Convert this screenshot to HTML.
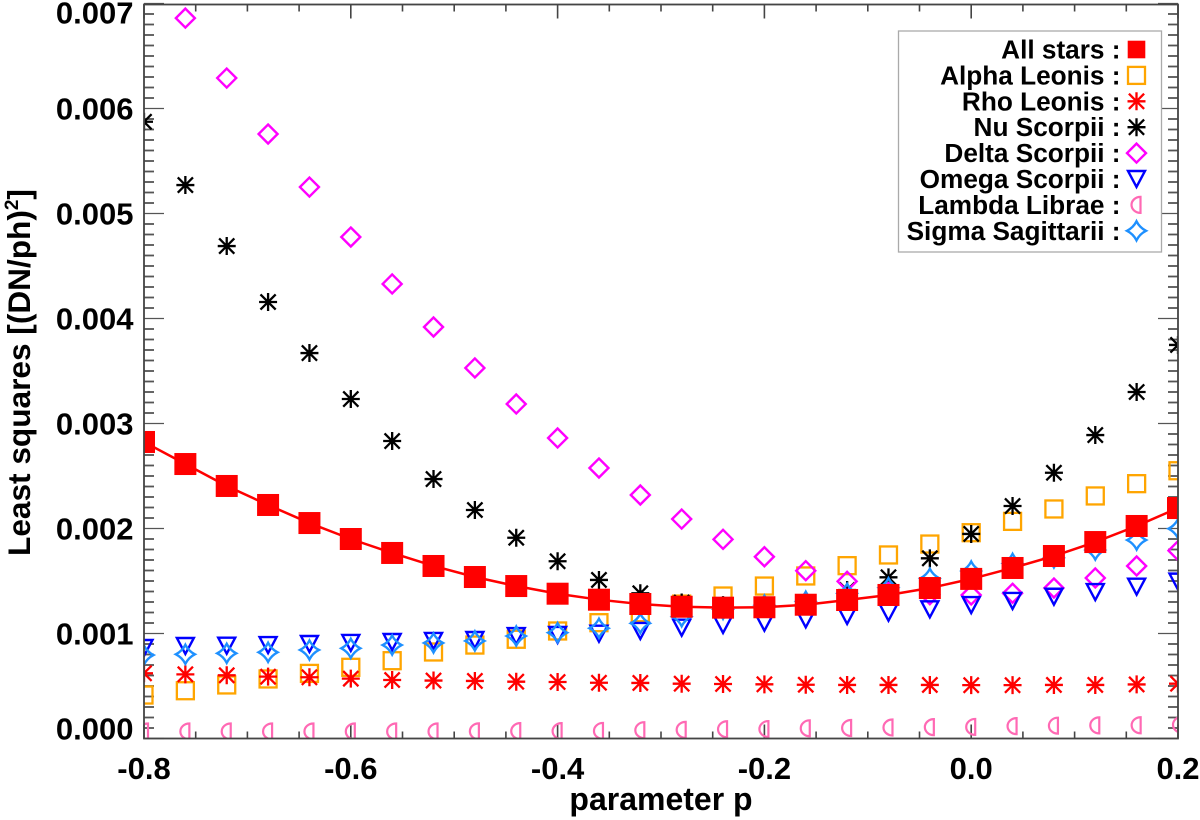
<!DOCTYPE html>
<html>
<head>
<meta charset="utf-8">
<title>Least squares vs parameter p</title>
<style>
html,body{margin:0;padding:0;background:#fff;width:1200px;height:820px;overflow:hidden}
svg{display:block;filter:blur(0.35px)}
text{font-family:"Liberation Sans",Arial,sans-serif;font-weight:bold;fill:#000}
</style>
</head>
<body>
<svg id="chart" width="1200" height="820" viewBox="0 0 1200 820" xmlns="http://www.w3.org/2000/svg">
  <defs><clipPath id="plot-clip"><rect x="144" y="4.5" width="1034" height="734.5"/></clipPath></defs>
  <rect x="0" y="0" width="1200" height="820" fill="#fff"/>
  <g id="ticks"></g>
  <g id="marks" clip-path="url(#plot-clip)"></g>
  <rect x="144" y="4.5" width="1034" height="734" fill="none" stroke="#444" stroke-width="1.8"/>
  <g id="tick-labels"></g>
  <text x="661" y="810" font-size="32" text-anchor="middle">parameter p</text>
  <text transform="translate(30,372.5) rotate(-90)" font-size="31.6" text-anchor="middle">Least squares [(DN/ph)<tspan font-size="19" dy="-12">2</tspan><tspan dy="12">]</tspan></text>
  <rect x="898.5" y="31" width="263" height="221" fill="#fff" stroke="#aaa" stroke-width="1.3"/>
  <g id="legend"></g>
</svg>
<script>
const NS = 'http://www.w3.org/2000/svg';

// Sampled values of parameter p
const pValues = [-0.80,-0.76,-0.72,-0.68,-0.64,-0.60,-0.56,-0.52,-0.48,-0.44,-0.40,-0.36,-0.32,-0.28,-0.24,-0.20,-0.16,-0.12,-0.08,-0.04,0.00,0.04,0.08,0.12,0.16,0.20];

// Least-squares values, in units of 1e-3 (DN/ph)^2
const allStars = [2.824,2.614,2.405,2.224,2.052,1.900,1.767,1.643,1.538,1.452,1.379,1.322,1.281,1.255,1.246,1.250,1.274,1.319,1.367,1.433,1.520,1.624,1.738,1.871,2.024,2.195];
const alphaLeonis = [0.414,0.455,0.510,0.567,0.620,0.678,0.741,0.824,0.890,0.945,1.024,1.103,1.198,1.280,1.357,1.452,1.548,1.646,1.748,1.852,1.960,2.068,2.186,2.310,2.427,2.550];
const rhoLeonis = [0.621,0.611,0.602,0.589,0.583,0.570,0.557,0.552,0.548,0.541,0.538,0.531,0.529,0.522,0.519,0.516,0.512,0.510,0.510,0.510,0.508,0.508,0.510,0.510,0.515,0.522];
const nuScorpii = [5.874,5.271,4.690,4.157,3.671,3.233,2.833,2.471,2.176,1.912,1.688,1.510,1.383,1.295,1.270,1.270,1.295,1.414,1.535,1.716,1.948,2.214,2.531,2.890,3.300,3.748];
const deltaScorpii = [7.500,6.861,6.290,5.757,5.252,4.776,4.329,3.919,3.529,3.186,2.862,2.576,2.319,2.090,1.897,1.731,1.598,1.497,1.390,1.370,1.367,1.383,1.433,1.529,1.643,1.789];
const omegaScorpii = [0.862,0.881,0.884,0.890,0.900,0.910,0.919,0.929,0.938,0.976,0.986,0.998,1.024,1.055,1.081,1.103,1.135,1.167,1.198,1.230,1.271,1.310,1.350,1.395,1.446,1.494];
const lambdaLibrae = [0.067,0.067,0.067,0.067,0.067,0.067,0.067,0.067,0.068,0.070,0.070,0.072,0.079,0.082,0.088,0.090,0.097,0.100,0.105,0.108,0.110,0.118,0.122,0.125,0.126,0.131];
const sigmaSagittarii = [0.795,0.802,0.811,0.821,0.843,0.859,0.890,0.910,0.929,0.976,1.008,1.050,1.097,1.160,1.230,1.270,1.307,1.383,1.436,1.526,1.595,1.668,1.720,1.795,1.890,1.998];

// Axis tick labels
const xTickLabels = ['-0.8','-0.6','-0.4','-0.2','0.0','0.2'];
const yTickLabels = ['0.000','0.001','0.002','0.003','0.004','0.005','0.006','0.007'];

// Legend labels
const legendLabels = ['All stars :','Alpha Leonis :','Rho Leonis :','Nu Scorpii :','Delta Scorpii :','Omega Scorpii :','Lambda Librae :','Sigma Sagittarii :'];

function xScale(p){ return 144 + (p + 0.8) * 1034; }
function yScale(v){ return 738.5 - v * 105; }

function shape(tag, attrs, parent){
  const el = document.createElementNS(NS, tag);
  for (const k in attrs) el.setAttribute(k, attrs[k]);
  parent.appendChild(el);
  return el;
}

function drawFilledSquare(x,y,parent){ return shape('rect',{x:x-11,y:y-11,width:22,height:22,fill:'#ff0000'},parent); }
function drawOpenSquare(x,y,parent){ return shape('rect',{x:x-8.5,y:y-8.5,width:17,height:17,fill:'none',stroke:'#ffa500','stroke-width':2.3},parent); }
function starPath(x,y){
  const r=9, d=7.6;
  return `M${x-r} ${y}H${x+r}M${x} ${y-r}V${y+r}M${x-d} ${y-d}L${x+d} ${y+d}M${x-d} ${y+d}L${x+d} ${y-d}`;
}
function drawRedStar(x,y,parent){ return shape('path',{d:starPath(x,y),fill:'none',stroke:'#ff0000','stroke-width':2.3},parent); }
function drawBlackStar(x,y,parent){ return shape('path',{d:starPath(x,y),fill:'none',stroke:'#000','stroke-width':2.3},parent); }
function drawDiamond(x,y,parent){ return shape('path',{d:`M${x} ${y-9.5}L${x+9.5} ${y}L${x} ${y+9.5}L${x-9.5} ${y}Z`,fill:'none',stroke:'#ff00ff','stroke-width':2.4},parent); }
function drawTriangle(x,y,parent){ return shape('path',{d:`M${x-8.5} ${y-8}H${x+8.5}L${x} ${y+8}Z`,fill:'none',stroke:'#0000ff','stroke-width':2.4},parent); }
function drawHalfMoon(x,y,parent){ return shape('path',{d:`M${x+4} ${y-8}V${y+8}A9 8 0 0 1 ${x+4} ${y-8}Z`,fill:'none',stroke:'#ff69b4','stroke-width':2.2},parent); }
function drawSigmaStar(x,y,parent){
  const r=9.5, c=3.2;
  return shape('path',{d:`M${x} ${y-r}Q${x+c} ${y-c} ${x+r} ${y}Q${x+c} ${y+c} ${x} ${y+r}Q${x-c} ${y+c} ${x-r} ${y}Q${x-c} ${y-c} ${x} ${y-r}Z`,fill:'none',stroke:'#1e90ff','stroke-width':2.4},parent);
}

const ticksG = document.getElementById('ticks');
const labelsG = document.getElementById('tick-labels');
const marksG = document.getElementById('marks');
const legendG = document.getElementById('legend');

// X ticks, bottom and top: minor every 0.05, major every 0.2
for (let i = 0; i <= 20; i++) {
  const x = xScale(-0.8 + i * 0.05);
  const len = i % 4 === 0 ? 14 : 7;
  const bottomTick = shape('line',{x1:x,x2:x,y1:738.5,y2:738.5-len,stroke:'#444','stroke-width':1.6},ticksG);
  
  
  const topTick = shape('line',{x1:x,x2:x,y1:4.5,y2:4.5+len,stroke:'#444','stroke-width':1.6},ticksG);
  
  
}
// Y ticks, left and right: minor every 0.1, major every 1 (units of 1e-3)
for (let i = 0; i <= 70; i++) {
  const y = yScale(i * 0.1);
  const len = i % 10 === 0 ? 20 : 10;
  const leftTick = shape('line',{x1:144,x2:144+len,y1:y,y2:y,stroke:'#555','stroke-width':i % 10 === 0 ? 1.2 : 1.8},ticksG);
  
  
  const rightTick = shape('line',{x1:1178,x2:1178-len,y1:y,y2:y,stroke:'#555','stroke-width':i % 10 === 0 ? 1.2 : 1.8},ticksG);
  
  
}

// Tick labels
xTickLabels.forEach(function(label){
  const t = shape('text',{x:xScale(parseFloat(label)),y:779,'font-size':31,'text-anchor':'middle'},labelsG);
  t.textContent = label;
  
  
});
yTickLabels.forEach(function(label){
  const v = parseFloat(label) * 1000;
  let base = yScale(v) + 11;
  if (v === 0) base -= 10;
  if (v === 7) base += 9;
  const t = shape('text',{x:133.5,y:base,'font-size':31,'text-anchor':'end'},labelsG);
  t.textContent = label;
  
  
});

// Series, in draw order (later ones sit on top)
function drawSeries(values, drawer, groupName){
  const g = shape('g',{},marksG);
  
  
  values.forEach(function(v,i){
    const m = drawer(xScale(pValues[i]), yScale(v), g);
    
    
  });
}
drawSeries(alphaLeonis, drawOpenSquare, 'series-alpha-leonis');
drawSeries(rhoLeonis, drawRedStar, 'series-rho-leonis');
drawSeries(nuScorpii, drawBlackStar, 'series-nu-scorpii');
drawSeries(deltaScorpii, drawDiamond, 'series-delta-scorpii');
drawSeries(omegaScorpii, drawTriangle, 'series-omega-scorpii');
drawSeries(lambdaLibrae, drawHalfMoon, 'series-lambda-librae');
drawSeries(sigmaSagittarii, drawSigmaStar, 'series-sigma-sagittarii');

const allLine = shape('polyline',{points:allStars.map(function(v,i){return xScale(pValues[i])+','+yScale(v);}).join(' '),fill:'none',stroke:'#ff0000','stroke-width':2.5},marksG);


drawSeries(allStars, drawFilledSquare, 'series-all-stars');

// Legend
const legendDrawers = [drawFilledSquare,drawOpenSquare,drawRedStar,drawBlackStar,drawDiamond,drawTriangle,drawHalfMoon,drawSigmaStar];
legendLabels.forEach(function(label,i){
  const cy = 49.5 + i * 25.9;
  const t = shape('text',{x:1120.5,y:cy+9,'font-size':26.2,'text-anchor':'end'},legendG);
  t.textContent = label;
  
  
  const drawer = legendDrawers[i];
  const m = drawer(1136.5, cy, legendG);
  
  
  if (i === 0) m.setAttribute('transform', 'translate(1136.5 '+cy+') scale(0.8) translate(-1136.5 '+(-cy)+')');
});
</script>
</body>
</html>
